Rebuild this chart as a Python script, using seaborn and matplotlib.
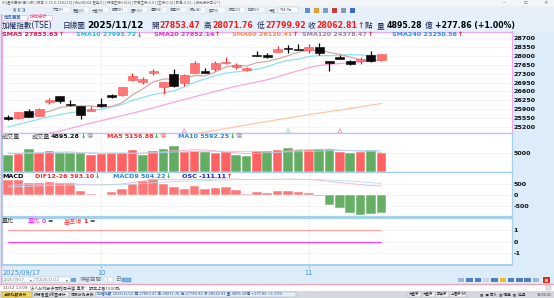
import matplotlib
matplotlib.use("Agg")
import matplotlib.pyplot as plt
import matplotlib.transforms as mtrans
from matplotlib.patches import Rectangle
import numpy as np
import pandas as pd
import seaborn as sns

nan = float("nan")

# ---------------- data ----------------
dates = ["2025/09/17", "2025/09/18", "2025/09/19", "2025/09/22", "2025/09/23", "2025/09/24",
         "2025/09/25", "2025/09/26", "2025/09/30", "2025/10/01", "2025/10/02", "2025/10/03",
         "2025/10/07", "2025/10/08", "2025/10/09", "2025/10/13", "2025/10/14", "2025/10/15",
         "2025/10/16", "2025/10/17", "2025/10/20", "2025/10/21", "2025/10/22", "2025/10/23",
         "2025/10/27", "2025/10/28", "2025/10/29", "2025/10/30", "2025/10/31", "2025/11/03",
         "2025/11/04", "2025/11/05", "2025/11/06", "2025/11/07", "2025/11/10", "2025/11/11",
         "2025/11/12"]
opens = [25598, 25547, 25812, 25626, 26180, 26405, 26101, 26022, 25836, 26101, 26445, 26445,
         27038, 26971, 27339, 26773, 27288, 26932, 27339, 27418, 27474, 27711, 27577, 27446,
         28051, 28051, 28158, 28317, 28289, 28237, 28344, 27790, 27949, 27814, 27790, 28051,
         27853.47]
highs = [25653, 25790, 25891, 25925, 26338, 26420, 26271, 26040, 26022, 26338, 26496, 26785,
         27315, 27157, 27474, 26975, 27497, 27275, 27790, 27525, 27814, 27949, 27735, 27577,
         28186, 28107, 28396, 28447, 28475, 28475, 28526, 27800, 28051, 27825, 27972, 28186,
         28071.76]
lows = [25467, 25495, 25590, 25610, 26113, 26128, 26040, 25495, 25820, 25995, 26338, 26430,
        27020, 26892, 27260, 26496, 26761, 26801, 27320, 27310, 27418, 27700, 27497, 27395,
        27990, 27921, 28150, 28131, 28225, 28131, 28051, 27395, 27880, 27632, 27683, 27780,
        27799.92]
closes = [25495, 25784, 25598, 25915, 26271, 26231, 26049, 25653, 25915, 26010, 26390, 26773,
          27209, 27102, 27395, 26959, 26801, 27260, 27711, 27327, 27735, 27763, 27656, 27525,
          28000, 27972, 28289, 28265, 28237, 28344, 28107, 27735, 27893, 27683, 27869, 27785,
          28062.81]
prev_close = 25600

sma5 = [25480, 25560, 25640, 25730, 25813, 25960, 26013, 26024, 26024, 25972, 26003, 26148,
        26459, 26697, 26974, 27088, 27093, 27103, 27225, 27212, 27367, 27559, 27638, 27601,
        27736, 27783, 27888, 28010, 28153, 28221, 28248, 28138, 28063, 27952, 27857, 27793,
        27853.63]
sma10 = [25180, 25300, 25400, 25500, 25600, 25680, 25760, 25800, 25850, 25892, 25982, 26081,
         26242, 26360, 26473, 26546, 26621, 26781, 26961, 27093, 27227, 27326, 27371, 27413,
         27474, 27575, 27724, 27824, 27877, 27979, 28016, 28013, 28037, 28053, 28039, 28021,
         27995.72]
sma20 = [nan, nan, nan, 24840, 24945, 25032, 25135, 25240, 25345, 25440, 25540, 25640,
         25740, 25840, 25950, 26060, 26170, 26280, 26390, 26492, 26604, 26703, 26806, 26887,
         26973, 27060, 27172, 27303, 27419, 27536, 27622, 27670, 27704, 27733, 27757, 27798,
         27852.14]
sma60 = [nan, nan, nan, nan, nan, nan, nan, nan, nan, nan, nan, nan,
         nan, nan, nan, nan, nan, 24860, 24920, 24990, 25060, 25130, 25200, 25270,
         25340, 25410, 25480, 25545, 25610, 25675, 25740, 25800, 25860, 25920, 25990, 26060,
         26120.41]

volume = [4343, 4709, 6172, 4891, 5440, 5075, 4982, 4982, 4525, 4709, 4891, 4891,
          5714, 4525, 5623, 6080, 6995, 5348, 5440, 5257, 4891, 5257, 4525, 4252,
          5623, 5623, 5897, 6354, 5806, 5806, 6080, 6172, 5166, 4891, 5166, 5806,
          4895.28]
vol_ma5 = [4900, 4850, 5000, 5050, 5111, 5257, 5312, 5074, 5001, 4855, 4818, 4800,
           4946, 4946, 5129, 5367, 5787, 5714, 5897, 5824, 5586, 5239, 5074, 4836,
           4910, 5056, 5184, 5550, 5861, 5897, 5989, 6044, 5806, 5623, 5495, 5440,
           5156.88]
vol_ma10 = [5000, 4980, 5020, 5040, 5060, 5080, 5050, 5020, 5000, 4983, 5038, 5056,
            5010, 4973, 4992, 5092, 5294, 5330, 5422, 5476, 5476, 5513, 5394, 5367,
            5367, 5321, 5211, 5312, 5349, 5403, 5522, 5614, 5678, 5742, 5696, 5714,
            5592.25]

dif = [430, 450, 460, 470, 485, 495, 500, 470, 452, 448, 462, 488,
       560, 620, 680, 690, 680, 680, 700, 700, 710, 720, 710, 690,
       700, 700, 705, 710, 700, 690, 660, 600, 560, 500, 460, 420,
       393.10]
macd9 = [350, 368, 384, 398, 412, 426, 440, 446, 448, 449, 451, 457,
         480, 508, 542, 572, 594, 611, 629, 643, 656, 669, 677, 680,
         684, 687, 691, 695, 696, 695, 688, 670, 648, 618, 586, 548,
         504.22]
osc_bar = [651, 651, 545, 530, 576, 545, 545, 182, 45, -20, 106, 258,
           500, 621, 697, 485, 333, 242, 379, 273, 303, 348, 197, 30,
           121, 91, 167, 182, 136, 61, -76, -470, -621, -848, -909, -864,
           -833]

vol_ratio = [0, 0, 0, 0, 0, 0, 0, 0, 0, 0, 0, 0, 0, 0, 0, 0, 0, 0, 0,
             0, 0, 0, 0, 0, 0, 0, 0, 0, 0, 0, 0, 0, 0, 0, 0, 0, 0]
base_line = [1, 1, 1, 1, 1, 1, 1, 1, 1, 1, 1, 1, 1, 1, 1, 1, 1, 1, 1,
             1, 1, 1, 1, 1, 1, 1, 1, 1, 1, 1, 1, 1, 1, 1, 1, 1, 1]

event_idx = [17, 27, 32]
event_col = ["#f090c8", "#90dbe8", "#f090c8"]

price_ticks = [25200, 25550, 25900, 26250, 26600, 26950, 27300, 27650, 28000, 28350, 28700]
vol_ticks = [5000]
macd_ticks = [500, 0, -500]
ratio_ticks = [1, 0, -1]

# ---------------- style ----------------
sns.set_theme(style="white")
plt.rcParams["font.family"] = ["DejaVu Sans", "Noto Sans CJK TC"]
plt.rcParams["axes.unicode_minus"] = False

W, H = 554, 298
BG = "#dcedf9"
fig = plt.figure(figsize=(W / 100, H / 100), dpi=100, facecolor=BG)
R = fig.canvas.get_renderer()


def rect(x, y, w, h, fc, ec="none", lw=0.0, z=-1):
    fig.add_artist(Rectangle((x / W, 1 - (y + h) / H), w / W, h / H, transform=fig.transFigure,
                             facecolor=fc, edgecolor=ec, linewidth=lw, zorder=z))


def hline(x0, x1, y, color, lw=0.8, z=6):
    fig.add_artist(plt.Line2D([x0 / W, x1 / W], [1 - y / H, 1 - y / H], transform=fig.transFigure,
                              color=color, lw=lw, zorder=z))


def vline(x, y0, y1, color, lw=0.8, z=6):
    fig.add_artist(plt.Line2D([x / W, x / W], [1 - y0 / H, 1 - y1 / H], transform=fig.transFigure,
                              color=color, lw=lw, zorder=z))


def txt(x, y, s, color="#333333", size=4.6, weight="normal", ha="left", z=8):
    return fig.text(x / W, 1 - y / H, s, color=color, fontsize=size, fontweight=weight,
                    ha=ha, va="center", zorder=z)


def seq(x, y, parts, gap=0.6):
    for p in parts:
        s, c = p[0], p[1]
        size = p[2] if len(p) > 2 else 4.6
        wt = p[3] if len(p) > 3 else "bold"
        t = txt(x, y, s, c, size, wt)
        x += t.get_window_extent(R).width + gap
    return x


def add_ax(x0, y0, x1, y1):
    return fig.add_axes([x0 / W, 1 - y1 / H, (x1 - x0) / W, (y1 - y0) / H])


# ---------------- window chrome ----------------
rect(0, 0, W, 6.5, "#f3f4f6")
txt(2, 3.2, "XQ全球贏家(個人版) [版本 3.15.0.250210] [WinNDX4:已登入] [行情主機:HQ3] [交易主機:0.0] [主機:0.0] [訊息:0.0] - [技術分析中心*]",
    "#666666", 2.5)
txt(503, 3, "–", "#666666", 4)
txt(523, 3, "▫", "#666666", 4)
txt(543, 3, "×", "#666666", 4)
rect(0, 6.5, W, 7.5, "#e9eff6")
tools = ["文字(F)", "看盤(Q)", "大盤(M)", "報價(R)", "圖形(G)", "選股(S)", "自選(P)",
         "帳戶(A)", "資訊(I)", "設定(O)", "說明(H)"]
for k, s in enumerate(tools):
    x0 = 52 + k * 19.5
    rect(x0, 7.5, 17.5, 5.5, "#f6f8fb", "#c9d3de", 0.3)
    txt(x0 + 1, 10.2, s, "#445566", 2.4)
rect(268, 7.5, 8, 5.5, "#f6f8fb", "#c9d3de", 0.3)
txt(269, 10.2, "內建", "#445566", 2.4)
rect(278, 7.5, 20, 5.5, "#ffffff", "#9fb6cf", 0.3)
txt(279, 10.2, "TSE.Tw", "#333333", 2.6)
for k, c in enumerate(["#5b8fd0", "#e0a030", "#7aa0c8", "#c04040", "#8899aa", "#3b6fb8"]):
    rect(305 + k * 9, 8.3, 5, 4.5, c)
txt(13, 10.2, "▣ ◧ ◨", "#6688aa", 2.6)

rect(0, 14, W, 17.5, "#e4f1fb")
rect(2, 14.8, 25, 5.2, "#f4f9fe", "#f0a8c8", 0.4, z=0)
txt(4, 17.4, "商品選單", "#3366cc", 3.2)
rect(28, 14.8, 24, 5.2, "#ffffff", "#f0a8c8", 0.4, z=0)
txt(30, 17.4, "技術分析", "#e0407a", 3.2)

# header row
NAVY = "#1c2452"
RED = "#ff1a1a"
GRN = "#1f9e3a"
yh = 25.5
CJ = 5.5
NUM = 5.6
txt(1.5, yh, "加權指數(TSE)", NAVY, CJ)
txt(63, yh, "日線圖", NAVY, CJ)
txt(87.5, yh, "2025/11/12", "#000000", 6.5, "bold")
txt(151, yh, "開", NAVY, CJ)
txt(159, yh, "27853.47", RED, NUM, "bold")
txt(204, yh, "高", NAVY, CJ)
txt(212.5, yh, "28071.76", RED, NUM, "bold")
txt(257, yh, "低", NAVY, CJ)
txt(265.5, yh, "27799.92", RED, NUM, "bold")
txt(308, yh, "收", NAVY, CJ)
seq(316.5, yh, [("28062.81", RED, NUM), ("↑", RED, NUM)], gap=0.3)
txt(365, yh, "點", NAVY, CJ)
txt(377, yh, "量", NAVY, CJ)
txt(386.5, yh, "4895.28", "#000000", NUM, "bold")
txt(425, yh, "億", NAVY, CJ)
txt(435, yh, "+277.86 (+1.00%)", "#000000", NUM, "bold")

# ---------------- panels ----------------
idx = np.arange(len(dates))
XL = ((2 - 8) / 10.37, (511.5 - 8) / 10.37)
month_starts = [i for i in range(1, len(dates)) if dates[i][5:7] != dates[i - 1][5:7]]

ax_p = add_ax(2, 31.5, 511.5, 133)
ax_v = add_ax(2, 133, 511.5, 171.5)
ax_m = add_ax(2, 172, 511.5, 217)
ax_r = add_ax(2, 217.5, 511.5, 265)

TICK_KW = dict(fontsize=4.6, fontweight="bold", color="#111111")
for ax, ec in [(ax_p, "#f0a8f0"), (ax_v, "#a6cfea"), (ax_m, "#a6cfea"), (ax_r, "#a6cfea")]:
    ax.set_facecolor("white")
    ax.set_xlim(*XL)
    ax.set_xticks([])
    ax.yaxis.tick_right()
    ax.tick_params(axis="y", length=0, pad=1.6)
    for sp in ax.spines.values():
        sp.set_color(ec)
        sp.set_linewidth(0.9)
    for m in month_starts:
        ax.axvline(m, color="#dfe8ef", lw=0.6, ls=(0, (1, 1)), zorder=0.5)
    ax.set_xlabel("")
    ax.set_ylabel("")

df = pd.DataFrame({"i": idx, "open": opens, "high": highs, "low": lows, "close": closes,
                   "sma5": sma5, "sma10": sma10, "sma20": sma20, "sma60": sma60,
                   "vol": volume, "vma5": vol_ma5, "vma10": vol_ma10,
                   "dif": dif, "macd9": macd9, "osc": osc_bar,
                   "ratio": vol_ratio, "base": base_line})

# price panel
ax_p.set_ylim(24953, 28969)
ax_p.set_yticks(price_ticks, [str(t) for t in price_ticks], **TICK_KW)
for t in price_ticks:
    ax_p.axhline(t, color="#f1f1f1", lw=0.5, zorder=0.4)
up = df["close"] >= df["open"]
wick_c = np.where(up, "#ff2a2a", "#000000")
body_c = np.where(up, "#ff7474", "#0a0a0a")
edge_c = np.where(up, "#ff4f4f", "#000000")
ax_p.vlines(df["i"], df["low"], df["high"], colors=wick_c, lw=0.9, zorder=3)
body_bot = np.minimum(df["open"], df["close"])
body_h = np.maximum(np.abs(df["close"] - df["open"]), 32)
ax_p.bar(df["i"], body_h, bottom=body_bot, width=0.86, color=body_c, edgecolor=edge_c,
         linewidth=0.4, zorder=4)
for col, c in [("sma60", "#ffc6a8"), ("sma20", "#f6a8e0"), ("sma10", "#8fe2ea"), ("sma5", "#d3a9a9")]:
    sns.lineplot(data=df, x="i", y=col, ax=ax_p, color=c, lw=0.9, zorder=2)
ax_p.scatter(event_idx, [25040] * len(event_idx), marker="^", s=9, facecolors="white",
             edgecolors=event_col, linewidths=0.6, zorder=5, clip_on=False)
ax_p.set_xlabel("")
ax_p.set_ylabel("")

ys = 35
seq(2, ys, [("SMA5 27853.63", "#d81e4a"), ("↑", RED)])
seq(76, ys, [("SMA10 27995.72", "#19c3cf"), ("↓", GRN)])
seq(154, ys, [("SMA20 27852.14", "#e62fc8"), ("↑", RED)])
seq(232, ys, [("SMA60 26120.41", "#ff8a48"), ("↑", RED)])
seq(302, ys, [("SMA120 24378.47", "#8c8c8c"), ("↑", RED)])
seq(392, ys, [("SMA240 23250.56", "#2a8fe6"), ("↑", RED)])

# volume panel
ax_v.set_ylim(0, 10420)
ax_v.set_yticks(vol_ticks, [str(t) for t in vol_ticks], **TICK_KW)
ax_v.axhline(5000, color="#f1f1f1", lw=0.5, zorder=0.4)
prevs = [prev_close] + closes[:-1]
vcol = ["#ff6262" if c >= p else "#62ad62" for c, p in zip(closes, prevs)]
ax_v.bar(df["i"], df["vol"], width=0.92, color=vcol, edgecolor="#ffffff", linewidth=0.35, zorder=2)
sns.lineplot(data=df, x="i", y="vma5", ax=ax_v, color="#f3a8c8", lw=0.6, zorder=3)
sns.lineplot(data=df, x="i", y="vma10", ax=ax_v, color="#a8daf0", lw=0.6, zorder=3)
ax_v.set_xlabel("")
ax_v.set_ylabel("")
yv = 136.8
txt(2, yv, "成交量", "#444444", 4.4)
seq(32, yv, [("成交量", "#444444", 4.4, "normal"), ("4895.28", "#111111"), ("↓", GRN),
             ("億", "#999999", 4.4, "normal")])
seq(107, yv, [("MA5 5156.88", "#ff2a2a"), ("↓", GRN), ("億", "#f08080", 4.4, "normal")])
seq(178, yv, [("MA10 5592.25", "#2a88d8"), ("↓", GRN), ("億", "#999999", 4.4, "normal")])

# MACD panel
ax_m.set_ylim(-1013, 1032)
ax_m.set_yticks(macd_ticks, [str(t) for t in macd_ticks], **TICK_KW)
for t in macd_ticks:
    ax_m.axhline(t, color="#f1f1f1", lw=0.5, zorder=0.4)
ocol = ["#ff7676" if v >= 0 else "#66b066" for v in osc_bar]
ax_m.bar(df["i"], df["osc"], width=0.92, color=ocol, edgecolor="#ffffff", linewidth=0.35, zorder=2)
sns.lineplot(data=df, x="i", y="dif", ax=ax_m, color="#f4b0cc", lw=0.6, zorder=3)
sns.lineplot(data=df, x="i", y="macd9", ax=ax_m, color="#b2e2f2", lw=0.6, zorder=3)
ax_m.set_xlabel("")
ax_m.set_ylabel("")
ax_m.spines["bottom"].set_linewidth(1.6)
ym = 176.7
txt(2, ym, "MACD", "#000000", 4.6, "bold")
seq(35, ym, [("DIF12-26 393.10", "#ff2a2a"), ("↓", GRN)])
seq(113, ym, [("MACD9 504.22", "#2a88d8"), ("↓", GRN)])
seq(182, ym, [("OSC -111.11", "#1c1ce0"), ("↑", RED)])

# volume ratio panel
ax_r.set_ylim(-1.98, 2.03)
ax_r.set_yticks(ratio_ticks, [str(t) for t in ratio_ticks], **TICK_KW)
for t in ratio_ticks:
    ax_r.axhline(t, color="#f1f1f1", lw=0.5, zorder=0.4)
sns.lineplot(data=df, x="i", y="base", ax=ax_r, color="#ffa3a3", lw=0.9, zorder=3)
sns.lineplot(data=df, x="i", y="ratio", ax=ax_r, color="#ff3cff", lw=0.9, zorder=3)
ax_r.set_xlabel("")
ax_r.set_ylabel("")
ax_r.spines["bottom"].set_linewidth(1.4)
yr = 221.7
txt(2, yr, "量比", "#444444", 4.4)
seq(28, yr, [("量比", "#ff33ff", 4.4, "normal"), ("0", "#ff33ff"), ("=", "#333333")], gap=1.2)
seq(64, yr, [("基準線", "#ff4040", 4.4, "normal"), ("1", "#ff2020"), ("=", "#333333")], gap=1.2)

# date axis
bt = mtrans.blended_transform_factory(ax_r.transData, fig.transFigure)
ax_r.text(-0.5, 1 - 272.7 / H, dates[0], transform=bt, ha="left", va="center",
          fontsize=4.8, color="#3d8fd6", clip_on=False)
for m in month_starts:
    ax_r.text(m, 1 - 272.7 / H, str(int(dates[m][5:7])), transform=bt, ha="center", va="center",
              fontsize=4.8, color="#3d8fd6", clip_on=False)
    ax_r.plot([m, m], [1 - 265.5 / H, 1 - 268 / H], transform=bt, color="#9cc8e4", lw=0.8,
              clip_on=False)

# ---------------- bottom chrome ----------------
rect(3, 277.3, 31, 5, "#ffffff", "#9fb3c8", 0.3, z=0)
txt(4, 279.8, "2025/09/17", "#777777", 2.6)
txt(30, 279.8, "▾", "#555555", 2.6)
txt(35, 279.8, "~", "#555555", 3)
rect(38, 277.3, 32, 5, "#ffffff", "#9fb3c8", 0.3, z=0)
txt(39, 279.8, "2025/11/12", "#777777", 2.6)
txt(66, 279.8, "▾", "#555555", 2.6)
rect(71, 277.5, 4.5, 4.5, "#6a9fd8", z=0)
txt(80, 279.8, "保留空間", "#777777", 4.0)
rect(104, 277.3, 9, 5, "#f4f8fc", "#b5c7d8", 0.3, z=0)
txt(106, 279.8, "3", "#aaaaaa", 3)
txt(115, 279.8, "日", "#777777", 4.0)
rect(122, 277.5, 9, 4.5, "#7fb0e0", "#5080c0", 0.3, z=0)
for k, c in enumerate(["#9ab8d8", "#4f7fbf", "#4f7fbf", "#c8d8e8", "#4f7fbf", "#f0c020",
                       "#4f7fbf", "#4f7fbf", "#4f7fbf", "#9ab8d8"]):
    rect(458 + k * 8.3, 277.6, 6.5, 4.6, c, z=0)
rect(543, 277.3, 7, 5.2, "#e02828", z=0)
rect(545, 278.5, 3, 3, "#f8d040", z=0)

hline(0, W, 283.6, "#f2a4b4", 1.0)
vline(0.6, 14, 283.6, "#f2a4c8", 1.0)
rect(0, 284.2, W, 6.8, "#ffffff")
txt(3, 287.6, "11/12 13:09", "#555555", 3.0)
txt(30, 287.6, "法人AI判斷多頭格局未變 專家：明年上看1500點", "#444444", 3.0)
rect(546, 284.8, 5, 5.5, "#dde6f0", "#9fb3c8", 0.3)
rect(0, 291, W, 7, "#d5d9df")
rect(2, 291.8, 30, 5.4, "#f7d75a", "#b09030", 0.3)
txt(4, 294.5, "台股指數分析", "#222222", 2.8)
for x0, s in [(33, "評分看盤"), (48, "k線圖分析"), (70, "個股技術分析")]:
    rect(x0, 291.8, 15 if len(s) < 5 else 21, 5.4, "#eef0f3", "#9aa3ad", 0.3)
    txt(x0 + 1, 294.5, s, "#222222", 2.8)
rect(96, 291.8, 200, 5.4, "#e8eef6", "#9aa3ad", 0.3)
txt(97, 294.5, "加權指數 2025/11/12 開:27853.47 高:28071.76 低:27799.92 收:28062.81 量:4895.28億 +277.86 +1.00%",
    "#2255aa", 2.6)
for x0, s in [(408, "大盤序"), (422, "大盤序"), (436, "期貨序"), (450, "上櫃序(M)")]:
    rect(x0, 291.8, 13 if len(s) < 5 else 17, 5.4, "#eef0f3", "#9aa3ad", 0.3)
    txt(x0 + 1, 294.5, s, "#222222", 2.5)
txt(480, 294.5, "▣  ■ 插入  ▦ 暢通  ▩  延遲", "#333333", 2.5)
txt(537, 294.5, "13:09:31", "#333333", 2.4)

fig.savefig("out.png", dpi=100, facecolor=BG)
